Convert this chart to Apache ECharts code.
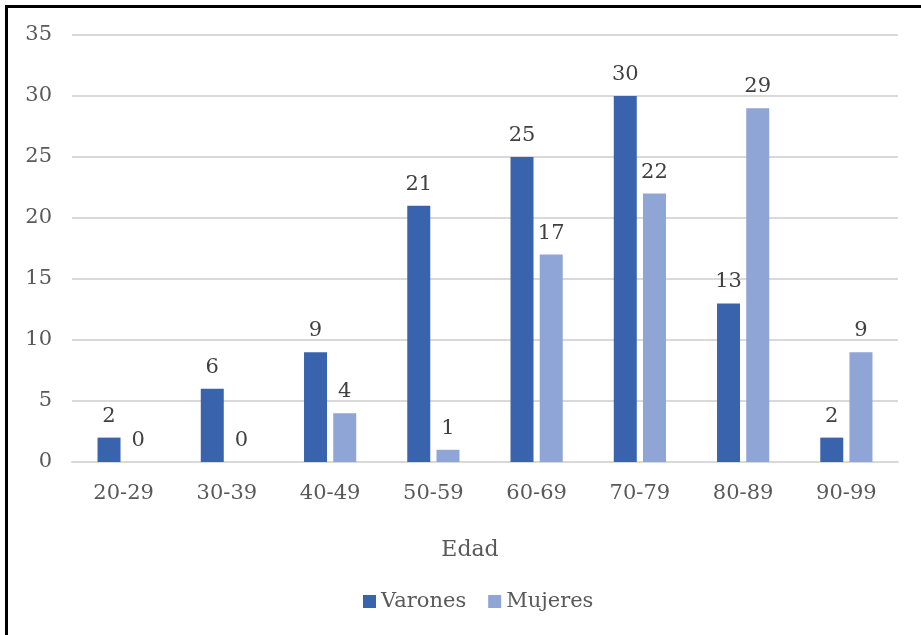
<!DOCTYPE html>
<html><head><meta charset="utf-8">
<script src="https://cdn.jsdelivr.net/npm/echarts@6/dist/echarts.min.js"></script>
<style>
html,body{margin:0;padding:0;background:#fff;overflow:hidden;}
#frame{position:absolute;left:5px;top:5px;width:1000px;height:700px;border-left:3px solid #000;border-top:3px solid #000;}
#chart{position:absolute;left:0;top:0;width:921px;height:635px;}
</style></head>
<body>
<div id="frame"></div>
<div id="chart"></div>
<script>
const categories = ['20-29','30-39','40-49','50-59','60-69','70-79','80-89','90-99'];
const varones = [2,6,9,21,25,30,13,2];
const mujeres = [0,0,4,1,17,22,29,9];
const yTicks = {min:0, max:35, interval:5};
const font = 'DejaVu Serif';
const chart = echarts.init(document.getElementById('chart'));
const lbl = {show:true, position:'top', distance:11, color:'#404040', fontFamily:font, fontSize:21};
chart.setOption({
  animation:false,
  textStyle:{fontFamily:font},
  grid:{left:72, right:23, top:35, bottom:173},
  legend:{top:586, left:358, itemWidth:13, itemHeight:13, itemGap:22,
    icon:'rect', textStyle:{fontFamily:font, fontSize:21, color:'#595959'},
    data:['Varones','Mujeres']},
  xAxis:{type:'category', data:categories, name:'Edad', nameLocation:'middle', nameGap:77,
    nameTextStyle:{fontFamily:font, fontSize:22, color:'#595959', padding:[0,30,0,0]},
    axisLine:{lineStyle:{color:'#D9D9D9', width:2}}, axisTick:{show:false},
    axisLabel:{fontFamily:font, fontSize:21, color:'#595959', margin:21}},
  yAxis:{type:'value', min:yTicks.min, max:yTicks.max, interval:yTicks.interval,
    axisLine:{show:false}, axisTick:{show:false},
    splitLine:{lineStyle:{color:'#D9D9D9', width:2}},
    axisLabel:{fontFamily:font, fontSize:21, color:'#595959', margin:20}},
  series:[
    {name:'Varones', type:'bar', data:varones, barWidth:23, barGap:'27%',
     itemStyle:{color:'#3A63AD'}, label:lbl},
    {name:'Mujeres', type:'bar', data:mujeres, barWidth:23,
     itemStyle:{color:'#8FA5D5'}, label:lbl}
  ]
});
</script>
</body></html>
